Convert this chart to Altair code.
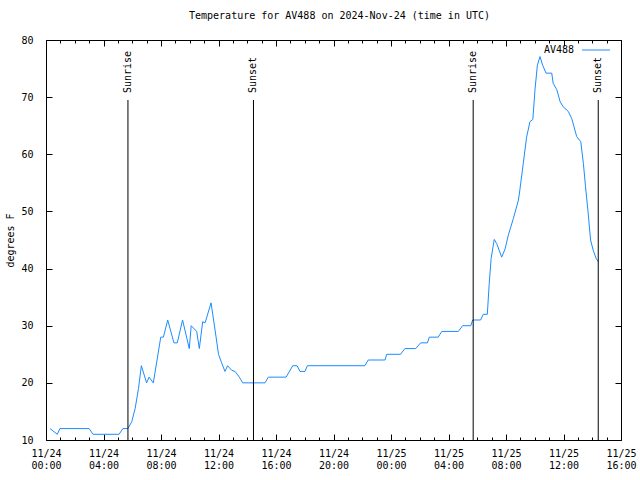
import altair as alt
import pandas as pd

# ---- data ----
times = [
    "2024-11-24T00:17:00Z", "2024-11-24T00:47:00Z", "2024-11-24T00:58:00Z", "2024-11-24T03:00:00Z",
    "2024-11-24T03:16:00Z", "2024-11-24T05:05:00Z", "2024-11-24T05:21:00Z", "2024-11-24T05:42:00Z",
    "2024-11-24T05:58:00Z", "2024-11-24T06:12:00Z", "2024-11-24T06:26:00Z", "2024-11-24T06:38:00Z",
    "2024-11-24T07:00:00Z", "2024-11-24T07:10:00Z", "2024-11-24T07:28:00Z", "2024-11-24T07:59:00Z",
    "2024-11-24T08:10:00Z", "2024-11-24T08:28:00Z", "2024-11-24T08:54:00Z", "2024-11-24T09:08:00Z",
    "2024-11-24T09:30:00Z", "2024-11-24T09:58:00Z", "2024-11-24T10:06:00Z", "2024-11-24T10:29:00Z",
    "2024-11-24T10:40:00Z", "2024-11-24T10:54:00Z", "2024-11-24T11:04:00Z", "2024-11-24T11:29:00Z",
    "2024-11-24T11:50:00Z", "2024-11-24T12:00:00Z", "2024-11-24T12:13:00Z", "2024-11-24T12:27:00Z",
    "2024-11-24T12:38:00Z", "2024-11-24T12:55:00Z", "2024-11-24T13:09:00Z", "2024-11-24T13:27:00Z",
    "2024-11-24T13:41:00Z", "2024-11-24T15:14:00Z", "2024-11-24T15:28:00Z", "2024-11-24T16:42:00Z",
    "2024-11-24T17:10:00Z", "2024-11-24T17:28:00Z", "2024-11-24T17:40:00Z", "2024-11-24T18:01:00Z",
    "2024-11-24T18:11:00Z", "2024-11-24T22:11:00Z", "2024-11-24T22:25:00Z", "2024-11-24T23:35:00Z",
    "2024-11-24T23:42:00Z", "2024-11-25T00:40:00Z", "2024-11-25T00:58:00Z", "2024-11-25T01:43:00Z",
    "2024-11-25T02:04:00Z", "2024-11-25T02:32:00Z", "2024-11-25T02:40:00Z", "2024-11-25T03:17:00Z",
    "2024-11-25T03:32:00Z", "2024-11-25T04:41:00Z", "2024-11-25T04:59:00Z", "2024-11-25T05:33:00Z",
    "2024-11-25T05:41:00Z", "2024-11-25T06:14:00Z", "2024-11-25T06:25:00Z", "2024-11-25T06:42:00Z",
    "2024-11-25T06:50:00Z", "2024-11-25T06:58:00Z", "2024-11-25T07:11:00Z", "2024-11-25T07:21:00Z",
    "2024-11-25T07:42:00Z", "2024-11-25T07:56:00Z", "2024-11-25T08:10:00Z", "2024-11-25T08:31:00Z",
    "2024-11-25T08:52:00Z", "2024-11-25T08:58:00Z", "2024-11-25T09:12:00Z", "2024-11-25T09:26:00Z",
    "2024-11-25T09:40:00Z", "2024-11-25T09:52:00Z", "2024-11-25T10:01:00Z", "2024-11-25T10:11:00Z",
    "2024-11-25T10:22:00Z", "2024-11-25T10:33:00Z", "2024-11-25T10:47:00Z", "2024-11-25T11:11:00Z",
    "2024-11-25T11:17:00Z", "2024-11-25T11:32:00Z", "2024-11-25T11:46:00Z", "2024-11-25T11:59:00Z",
    "2024-11-25T12:20:00Z", "2024-11-25T12:34:00Z", "2024-11-25T12:44:00Z", "2024-11-25T12:55:00Z",
    "2024-11-25T13:12:00Z", "2024-11-25T13:23:00Z", "2024-11-25T13:32:00Z", "2024-11-25T13:43:00Z",
    "2024-11-25T13:53:00Z", "2024-11-25T14:04:00Z", "2024-11-25T14:16:00Z", "2024-11-25T14:25:00Z",
]
temps = [
    12, 11, 12, 12,
    11, 11, 12, 12,
    13.2, 15.5, 19, 23,
    20, 21, 20, 28,
    28, 31, 27, 27,
    31, 26, 30, 29,
    26, 30.7, 30.5, 34,
    28, 25, 23.5, 22,
    23, 22.2, 22, 21,
    20, 20, 21, 21,
    23, 23, 22, 22,
    23, 23, 24, 24,
    25, 25, 26, 26,
    27, 27, 28, 28,
    29, 29, 30, 30,
    31, 31, 32, 32,
    37.4, 41.8, 45.1, 44.4,
    42, 43.4, 45.9, 48.8,
    52, 53.8, 58.4, 63,
    65.7, 66.1, 71.3, 75.6,
    77.1, 75.6, 74.2, 74.2,
    72.4, 71.3, 69.2, 68.3,
    67.5, 66.3, 64.8, 63.1,
    62.2, 58.4, 54.3, 49.7,
    45, 43.2, 41.8, 41.2,
]
sun_times = ["2024-11-24T05:42:00Z", "2024-11-24T14:26:00Z",
             "2024-11-25T05:43:00Z", "2024-11-25T14:25:00Z"]
sun_labels = ["Sunrise", "Sunset", "Sunrise", "Sunset"]
series_name = "AV488"
y_ticks = [10, 20, 30, 40, 50, 60, 70, 80]
title_text = "Temperature for AV488 on 2024-Nov-24 (time in UTC)"
y_title = "degrees F"

df = pd.DataFrame({"time": times, "temp": temps})
sun_df = pd.DataFrame({"time": sun_times, "label": sun_labels})

FONT = "DejaVu Sans Mono"
W, H = 575, 400
LINE_COLOR = "#1a8cff"
SUN_TOP = 69.5


def dt(day, hour):
    return alt.DateTime(year=2024, month=11, date=day, hours=hour, utc=True)


hour_list = [(24, h) for h in range(24)] + [(25, h) for h in range(17)]
minor_vals = [dt(d, h) for d, h in hour_list]
major_vals = [dt(d, h) for d, h in hour_list if h % 4 == 0]

xscale = alt.Scale(type="utc", domain=[dt(24, 0), dt(25, 16)])
yscale = alt.Scale(domain=[10, 80], nice=False, zero=False)


def X(axis):
    return alt.X("time:T", scale=xscale, axis=axis, title=None)


def Y(axis):
    return alt.Y("temp:Q", scale=yscale, axis=axis, title=None)


x_label_axis = alt.Axis(
    orient="bottom", values=major_vals, tickSize=0, labelPadding=8, domain=False, grid=False,
    labelFlush=False, labelOverlap=False, labelBound=False, labelLineHeight=12,
    labelBaseline="top", labelFont=FONT, labelFontSize=10, labelColor="black",
    labelExpr="[utcFormat(datum.value, '%m/%d'), utcFormat(datum.value, '%H:%M')]",
)
y_label_axis = alt.Axis(
    orient="left", values=y_ticks, tickSize=0, labelPadding=13, domain=False, grid=False,
    labelFont=FONT, labelFontSize=10, labelColor="black", labelFlush=False, labelOverlap=False,
    title=y_title, titleFont=FONT, titleFontSize=10, titleFontWeight="normal", titleColor="black",
    titleX=-36, titleY=H / 2, titleAngle=270, titleAlign="center", titleBaseline="middle",
)

line = alt.Chart(df).mark_line(color=LINE_COLOR, strokeWidth=1).encode(
    x=alt.X("time:T", scale=xscale, axis=x_label_axis, title=None),
    y=alt.Y("temp:Q", scale=yscale, axis=y_label_axis, title=y_title),
)


def tick_axis(orient, values, size, offset):
    return alt.Axis(orient=orient, values=values, labels=False, tickSize=size, domain=False,
                    grid=False, offset=offset, tickColor="black", tickWidth=1, title=None)


ghost = alt.Chart(df).mark_line(strokeOpacity=0)
tick_layers = [
    ghost.encode(x=X(tick_axis("top", major_vals, 6, -H)), y=Y(None)),
    ghost.encode(x=X(tick_axis("top", minor_vals, 3, -H)), y=Y(None)),
    ghost.encode(x=X(tick_axis("bottom", major_vals, 6, -H)), y=Y(None)),
    ghost.encode(x=X(tick_axis("bottom", minor_vals, 3, -H)), y=Y(None)),
    ghost.encode(x=X(None), y=Y(tick_axis("right", y_ticks, 6, -W))),
    ghost.encode(x=X(None), y=Y(tick_axis("left", y_ticks, 6, -W))),
]

sun_rules = alt.Chart(sun_df).mark_rule(color="black", strokeWidth=1).encode(
    x=alt.X("time:T", scale=xscale, axis=None),
    y=alt.YDatum(10, type="quantitative", scale=yscale, axis=None),
    y2=alt.Y2Datum(SUN_TOP),
)
sun_text = alt.Chart(sun_df).mark_text(
    angle=270, align="left", baseline="middle", dx=7, font=FONT, fontSize=10, color="black"
).encode(
    x=alt.X("time:T", scale=xscale, axis=None),
    y=alt.YDatum(SUN_TOP, type="quantitative", scale=yscale, axis=None),
    text="label:N",
)

legend_df = pd.DataFrame({"label": [series_name]})
legend_text = alt.Chart(legend_df).mark_text(
    align="right", baseline="middle", font=FONT, fontSize=10, color="black"
).encode(x=alt.value(528), y=alt.value(10), text="label:N")
legend_line = alt.Chart(legend_df).mark_rule(color=LINE_COLOR, strokeWidth=1).encode(
    x=alt.value(536), x2=alt.value(564), y=alt.value(10)
)

chart = alt.layer(
    line, *tick_layers, sun_rules, sun_text, legend_text, legend_line
).resolve_axis(x="independent", y="independent").resolve_scale(
    x="shared", y="shared"
).properties(
    width=W, height=H,
    autosize=alt.AutoSizeParams(type="none"),
    padding={"left": 46, "top": 40, "right": 19, "bottom": 40},
    background="white",
    title=alt.TitleParams(title_text, font=FONT, fontSize=10, fontWeight="normal",
                          color="black", anchor="middle", dx=6, offset=14),
).configure_view(stroke="black", strokeWidth=1)

chart.save("out.html", embed_options={"renderer": "svg", "actions": False})
